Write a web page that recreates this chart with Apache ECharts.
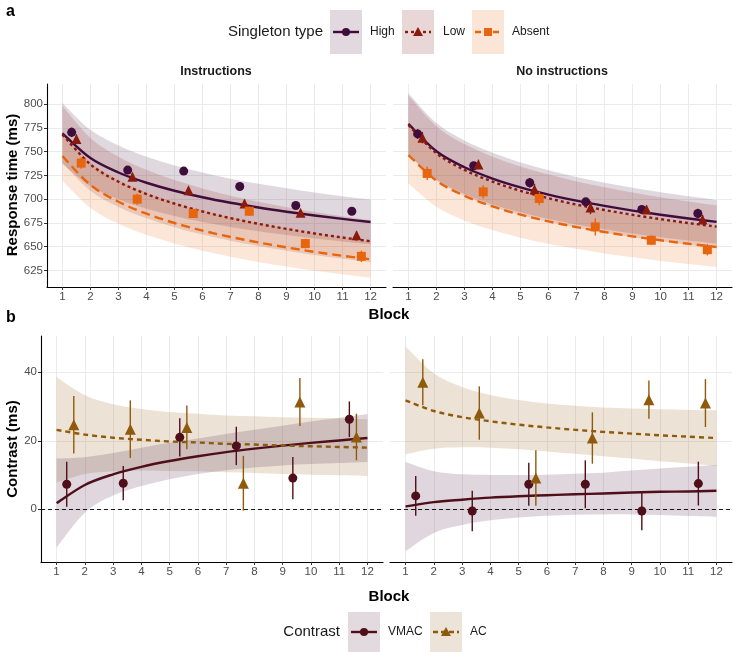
<!DOCTYPE html>
<html>
<head>
<meta charset="utf-8">
<script src="https://cdn.jsdelivr.net/npm/echarts@6/dist/echarts.min.js"></script>
<style>
  html, body { margin: 0; padding: 0; background: #fff; }
  #chart { width: 733px; height: 652px; }
</style>
</head>
<body>
<div id="chart"></div>
<script>
// blocks used for the fitted curves and for the observed means
var fitBlocks = [1, 2, 3, 4, 5, 6, 7, 8, 9, 10, 11, 12];
var meanBlocks = [1, 3, 5, 7, 9, 11];
var rtTicks = [625, 650, 675, 700, 725, 750, 775, 800];
var contrastTicks = [0, 20, 40];
var panelTitles = ['Instructions', 'No instructions'];

// ---- panel a, Instructions ----
var instHighMean = [770.4, 730.6, 729.6, 713.4, 693.3, 687.3];
var instHighErr = [5, 4, 4, 3, 4, 3];
var instLowMean = [763.4, 723.6, 709.5, 695.4, 685.6, 662.0];
var instLowErr = [5, 4, 3, 4, 3, 4];
var instAbsentMean = [738.0, 700.0, 684.9, 687.3, 653.2, 639.8];
var instAbsentErr = [6, 6, 4, 5, 5, 6];

var instHighFit = [769.4, 743.3, 728.1, 717.3, 708.9, 702.0, 696.2, 691.2, 686.8, 682.8, 679.2, 676.0];
var instHighUpr = [801.4, 773.0, 756.4, 744.6, 735.5, 728.0, 721.6, 716.2, 711.4, 707.0, 703.1, 699.6];
var instHighLwr = [737.4, 713.6, 699.8, 690.0, 682.3, 676.0, 670.8, 666.2, 662.2, 658.6, 655.3, 652.4];
var instLowFit = [768.0, 736.7, 718.3, 705.4, 695.3, 687.0, 680.0, 674.0, 668.7, 663.9, 659.6, 655.7];
var instLowUpr = [798.0, 764.5, 744.8, 730.9, 720.1, 711.3, 703.7, 697.3, 691.6, 686.5, 681.9, 677.7];
var instLowLwr = [738.0, 708.9, 691.8, 679.9, 670.5, 662.7, 656.3, 650.7, 645.8, 641.3, 637.3, 633.7];
var instAbsentFit = [745.4, 715.0, 697.3, 684.7, 674.9, 666.9, 660.2, 654.4, 649.2, 644.5, 640.4, 636.6];
var instAbsentUpr = [771.4, 739.2, 720.4, 707.0, 696.6, 688.1, 681.0, 674.9, 669.4, 664.4, 660.0, 656.0];
var instAbsentLwr = [719.4, 690.8, 674.2, 662.4, 653.2, 645.7, 639.4, 633.9, 629.0, 624.6, 620.8, 617.2];

// ---- panel a, No instructions ----
var noHighMean = [768.7, 735.2, 717.3, 697.2, 689.1, 684.9];
var noHighErr = [5, 4, 5, 4, 3, 5];
var noLowMean = [764.8, 736.6, 710.2, 691.2, 689.1, 678.5];
var noLowErr = [6, 5, 6, 7, 4, 5];
var noAbsentMean = [727.1, 707.7, 700.7, 670.8, 656.7, 646.8];
var noAbsentErr = [7, 7, 7, 9, 5, 6];

var noHighFit = [779.2, 750.4, 733.6, 721.7, 712.4, 704.8, 698.4, 692.9, 688.0, 683.6, 679.7, 676.1];
var noHighUpr = [811.6, 780.2, 761.8, 748.9, 738.7, 730.5, 723.4, 717.4, 712.1, 707.3, 703.0, 699.1];
var noHighLwr = [746.8, 720.6, 705.4, 694.5, 686.1, 679.1, 673.4, 668.4, 663.9, 659.9, 656.4, 653.1];
var noLowFit = [778.2, 748.3, 730.8, 718.5, 708.8, 701.0, 694.3, 688.6, 683.5, 679.0, 674.8, 671.1];
var noLowUpr = [809.2, 776.9, 758.0, 744.8, 734.3, 725.9, 718.6, 712.5, 707.0, 702.1, 697.6, 693.6];
var noLowLwr = [747.2, 719.7, 703.6, 692.2, 683.3, 676.1, 670.0, 664.7, 660.0, 655.9, 652.0, 648.6];
var noAbsentFit = [746.5, 719.5, 703.6, 692.4, 683.7, 676.6, 670.6, 665.4, 660.8, 656.7, 653.0, 649.6];
var noAbsentUpr = [776.5, 747.0, 729.6, 717.3, 707.9, 700.1, 693.5, 687.9, 682.8, 678.4, 674.3, 670.6];
var noAbsentLwr = [716.5, 692.0, 677.6, 667.5, 659.5, 653.1, 647.7, 642.9, 638.8, 635.0, 631.7, 628.6];

// ---- panel b, Instructions ----
var instVmacMean = [7.3, 7.6, 21.0, 18.5, 9.1, 26.3];
var instVmacErr = [6.6, 5.0, 5.6, 5.6, 6.2, 5.2];
var instAcMean = [24.7, 23.4, 23.9, 7.6, 31.3, 21.1];
var instAcErr = [8.4, 8.4, 6.4, 8.0, 7.0, 6.8];

var instVmacFit = [1.8, 7.1, 10.2, 12.4, 14.1, 15.5, 16.7, 17.7, 18.6, 19.4, 20.1, 20.8];
var instVmacUpr = [14.8, 15.2, 16.4, 18.0, 19.4, 20.7, 22.0, 23.2, 24.4, 25.6, 26.7, 27.8];
var instVmacLwr = [-11.2, -1.0, 4.0, 6.8, 8.8, 10.3, 11.4, 12.2, 12.8, 13.2, 13.5, 13.8];
var instAcFit = [23.2, 21.8, 20.9, 20.3, 19.8, 19.5, 19.1, 18.9, 18.6, 18.4, 18.2, 18.0];
var instAcUpr = [38.6, 33.3, 30.7, 29.3, 28.4, 27.9, 27.4, 27.2, 26.9, 26.7, 26.5, 26.3];
var instAcLwr = [7.8, 10.3, 11.1, 11.3, 11.2, 11.1, 10.8, 10.6, 10.3, 10.1, 9.9, 9.7];

// ---- panel b, No instructions ----
var noVmacMean = [3.9, -0.5, 7.3, 7.3, -0.5, 7.5];
var noVmacErr = [5.8, 5.9, 6.3, 7.0, 5.6, 6.4];
var noAcMean = [37.1, 28.1, 9.1, 20.8, 32.0, 31.0];
var noAcErr = [6.7, 7.8, 8.1, 7.5, 5.6, 7.0];

var noVmacFit = [0.8, 2.1, 2.8, 3.4, 3.8, 4.1, 4.4, 4.6, 4.9, 5.1, 5.2, 5.4];
var noVmacUpr = [13.8, 11.1, 10.2, 10.0, 10.0, 10.1, 10.4, 10.7, 11.3, 11.9, 12.4, 13.0];
var noVmacLwr = [-12.2, -6.9, -4.6, -3.2, -2.4, -1.9, -1.6, -1.5, -1.5, -1.7, -2.0, -2.2];
var noAcFit = [31.8, 28.7, 26.9, 25.7, 24.7, 23.9, 23.2, 22.6, 22.1, 21.6, 21.2, 20.8];
var noAcUpr = [47.5, 39.7, 35.7, 33.4, 31.9, 30.9, 30.2, 29.7, 29.4, 29.2, 29.0, 28.9];
var noAcLwr = [16.1, 17.7, 18.1, 18.0, 17.5, 16.9, 16.2, 15.5, 14.8, 14.0, 13.4, 12.7];

// colours
var HIGH = '#3f0d3b', LOW = '#8b1a0e', ABSENT = '#e8650f';
var VMAC = '#4f0f1a', AC = '#8f5a0b';
var HIGH_BAND = 'rgba(63,13,59,0.16)', LOW_BAND = 'rgba(139,26,14,0.16)', ABSENT_BAND = 'rgba(232,101,15,0.16)';
var VMAC_BAND = 'rgba(80,30,70,0.18)', AC_BAND = 'rgba(143,90,11,0.17)';

var TICK_FONT = '"Liberation Sans Narrow", "Liberation Sans", Arial, sans-serif';
var TITLE_FONT = '"Liberation Sans", Arial, sans-serif';

var chart = echarts.init(document.getElementById('chart'), null, { renderer: 'canvas' });

function pairs(xs, ys) {
    return xs.map(function (x, i) { return [x, ys[i]]; });
}

// smooth path through pixel points (Catmull-Rom as cubic Bezier)
function curveCmds(pts, start) {
    var d = (start ? 'M' : 'L') + pts[0][0] + ' ' + pts[0][1];
    for (var i = 0; i < pts.length - 1; i++) {
        var p0 = pts[i - 1] || pts[i], p1 = pts[i], p2 = pts[i + 1], p3 = pts[i + 2] || p2;
        var c1x = p1[0] + (p2[0] - p0[0]) / 6, c1y = p1[1] + (p2[1] - p0[1]) / 6;
        var c2x = p2[0] - (p3[0] - p1[0]) / 6, c2y = p2[1] - (p3[1] - p1[1]) / 6;
        d += ' C' + c1x + ' ' + c1y + ' ' + c2x + ' ' + c2y + ' ' + p2[0] + ' ' + p2[1];
    }
    return d;
}

function band(g, lwr, upr, fill) {
    return { type: 'custom', xAxisIndex: g, yAxisIndex: g, z: 1, silent: true,
        data: pairs(fitBlocks, lwr),
        renderItem: function (params, api) {
            if (params.dataIndex !== 0) return null;
            var up = fitBlocks.map(function (b, i) { return api.coord([b, upr[i]]); });
            var lo = fitBlocks.map(function (b, i) { return api.coord([b, lwr[i]]); }).reverse();
            var d = curveCmds(up, true) + ' ' + curveCmds(lo, false) + ' Z';
            return { type: 'path', shape: { pathData: d }, style: { fill: fill } };
        } };
}

function fitLine(g, fit, color, dash) {
    return { type: 'custom', xAxisIndex: g, yAxisIndex: g, z: 3, silent: true,
        data: pairs(fitBlocks, fit),
        renderItem: function (params, api) {
            if (params.dataIndex !== 0) return null;
            var pts = fitBlocks.map(function (b, i) { return api.coord([b, fit[i]]); });
            return { type: 'path', shape: { pathData: curveCmds(pts, true) },
                     style: { fill: null, stroke: color, lineWidth: 2.4, lineDash: dash } };
        } };
}

function points(g, mean, err, offset, color, symbol, size, markLine) {
    var xs = meanBlocks.map(function (b) { return b + offset; });
    var sc = { type: 'scatter', xAxisIndex: g, yAxisIndex: g, z: 5, silent: true,
          data: pairs(xs, mean), symbol: symbol, symbolSize: size,
          itemStyle: { color: color, opacity: 1 } };
    if (markLine) sc.markLine = markLine;
    return [
        { type: 'custom', xAxisIndex: g, yAxisIndex: g, z: 4, silent: true,
          data: xs.map(function (x, i) { return [x, mean[i] - err[i], mean[i] + err[i]]; }),
          encode: { x: 0, y: [1, 2] },
          renderItem: function (params, api) {
              var a = api.coord([api.value(0), api.value(1)]);
              var b = api.coord([api.value(0), api.value(2)]);
              return { type: 'line', shape: { x1: a[0], y1: a[1], x2: b[0], y2: b[1] },
                       style: { stroke: color, lineWidth: 1.4 } };
          } },
        sc
    ];
}

var zeroLine = { silent: true, symbol: 'none', label: { show: false }, z: 2,
    lineStyle: { color: '#000', type: [4, 3], width: 0.9 }, data: [{ yAxis: 0 }] };

var grids = [
    { left: 47, top: 84, width: 339, height: 203 },
    { left: 393, top: 84, width: 339, height: 203 },
    { left: 41, top: 336, width: 342, height: 226 },
    { left: 390, top: 336, width: 342, height: 226 }
];

function xAxisFor(g) {
    return { type: 'value', gridIndex: g, min: 0.45, max: 12.55,
        axisLine: { show: true, onZero: false, lineStyle: { color: '#000', width: 1.1 } },
        axisTick: { show: true, length: 3, customValues: fitBlocks, lineStyle: { color: '#333' } },
        axisLabel: { customValues: fitBlocks, color: '#4d4d4d', fontSize: 11.5, fontFamily: TICK_FONT, margin: 4 },
        splitLine: { show: true, lineStyle: { color: '#ebebeb', width: 1 } } };
}

function yAxisFor(g, min, max, ticks, showLeft) {
    return { type: 'value', gridIndex: g, min: min, max: max,
        axisLine: { show: showLeft, onZero: false, lineStyle: { color: '#000', width: 1.1 } },
        axisTick: { show: showLeft, length: 3, customValues: ticks, lineStyle: { color: '#333' } },
        axisLabel: { show: showLeft, customValues: ticks, color: '#4d4d4d', fontSize: 11.5, fontFamily: TICK_FONT, margin: 4 },
        splitLine: { show: true, lineStyle: { color: '#ebebeb', width: 1 } } };
}

var series = [].concat(
    [band(0, instHighLwr, instHighUpr, HIGH_BAND),
     band(0, instLowLwr, instLowUpr, LOW_BAND),
     band(0, instAbsentLwr, instAbsentUpr, ABSENT_BAND),
     fitLine(0, instHighFit, HIGH, null),
     fitLine(0, instLowFit, LOW, [3, 3]),
     fitLine(0, instAbsentFit, ABSENT, [9, 5])],
    points(0, instHighMean, instHighErr, 0.33, HIGH, 'circle', 9),
    points(0, instLowMean, instLowErr, 0.5, LOW, 'triangle', 10),
    points(0, instAbsentMean, instAbsentErr, 0.67, ABSENT, 'rect', 9),

    [band(1, noHighLwr, noHighUpr, HIGH_BAND),
     band(1, noLowLwr, noLowUpr, LOW_BAND),
     band(1, noAbsentLwr, noAbsentUpr, ABSENT_BAND),
     fitLine(1, noHighFit, HIGH, null),
     fitLine(1, noLowFit, LOW, [3, 3]),
     fitLine(1, noAbsentFit, ABSENT, [9, 5])],
    points(1, noHighMean, noHighErr, 0.33, HIGH, 'circle', 9),
    points(1, noLowMean, noLowErr, 0.5, LOW, 'triangle', 10),
    points(1, noAbsentMean, noAbsentErr, 0.67, ABSENT, 'rect', 9),

    [band(2, instAcLwr, instAcUpr, AC_BAND),
     band(2, instVmacLwr, instVmacUpr, VMAC_BAND),
     fitLine(2, instVmacFit, VMAC, null),
     fitLine(2, instAcFit, AC, [5, 4])],
    points(2, instVmacMean, instVmacErr, 0.36, VMAC, 'circle', 9, zeroLine),
    points(2, instAcMean, instAcErr, 0.61, AC, 'triangle', 11),

    [band(3, noAcLwr, noAcUpr, AC_BAND),
     band(3, noVmacLwr, noVmacUpr, VMAC_BAND),
     fitLine(3, noVmacFit, VMAC, null),
     fitLine(3, noAcFit, AC, [5, 4])],
    points(3, noVmacMean, noVmacErr, 0.36, VMAC, 'circle', 9, zeroLine),
    points(3, noAcMean, noAcErr, 0.61, AC, 'triangle', 11)
);

// legend keys drawn as ggplot-style boxes
function legendKey(x, yTop, h, bg, color, dash, shape) {
    var cy = yTop + h / 2, cx = x + 16;
    var mark;
    if (shape === 'circle') {
        mark = { type: 'circle', shape: { cx: cx, cy: cy, r: 4 }, style: { fill: color } };
    } else if (shape === 'triangle') {
        mark = { type: 'polygon', shape: { points: [[cx, cy - 5], [cx - 5, cy + 4], [cx + 5, cy + 4]] }, style: { fill: color } };
    } else {
        mark = { type: 'rect', shape: { x: cx - 4, y: cy - 4, width: 8, height: 8 }, style: { fill: color } };
    }
    return [
        { type: 'rect', shape: { x: x, y: yTop, width: 32, height: h }, style: { fill: bg } },
        { type: 'line', shape: { x1: x + 3, y1: cy, x2: x + 29, y2: cy }, style: { stroke: color, lineWidth: 2.4, lineDash: dash } },
        mark
    ];
}

function txt(x, y, text, size, opts) {
    var o = { type: 'text', x: x, y: y, style: { text: text, fontSize: size, fontFamily: TICK_FONT,
        fill: '#1a1a1a', textAlign: 'left', textVerticalAlign: 'middle' } };
    if (opts) { for (var k in opts) o.style[k] = opts[k]; }
    return o;
}

var graphics = [].concat(
    [txt(6, 12, 'a', 16, { fontWeight: 'bold', fontFamily: TITLE_FONT, fill: '#000' }),
     txt(6, 318, 'b', 16, { fontWeight: 'bold', fontFamily: TITLE_FONT, fill: '#000' }),
     txt(323, 32, 'Singleton type', 15, { textAlign: 'right' })],
    legendKey(330, 10, 44, '#e1d8e0', HIGH, null, 'circle'),
    [txt(370, 32, 'High', 12)],
    legendKey(402, 10, 44, '#e9d6d6', LOW, [3, 3], 'triangle'),
    [txt(443, 32, 'Low', 12)],
    legendKey(472, 10, 44, '#fbe5d7', ABSENT, [6, 3], 'rect'),
    [txt(512, 32, 'Absent', 12)],
    [txt(216, 72, panelTitles[0], 12.5, { textAlign: 'center', fontWeight: 'bold' }),
     txt(562, 72, panelTitles[1], 12.5, { textAlign: 'center', fontWeight: 'bold' }),
     txt(389, 315, 'Block', 15, { textAlign: 'center', fontWeight: 'bold', fontFamily: TITLE_FONT, fill: '#000' }),
     txt(389, 597, 'Block', 15, { textAlign: 'center', fontWeight: 'bold', fontFamily: TITLE_FONT, fill: '#000' }),
     { type: 'text', x: 13, y: 185, rotation: Math.PI / 2,
       style: { text: 'Response time (ms)', fontSize: 15, fontWeight: 'bold', fontFamily: TITLE_FONT,
                fill: '#000', textAlign: 'center', textVerticalAlign: 'middle' } },
     { type: 'text', x: 13, y: 449, rotation: Math.PI / 2,
       style: { text: 'Contrast (ms)', fontSize: 15, fontWeight: 'bold', fontFamily: TITLE_FONT,
                fill: '#000', textAlign: 'center', textVerticalAlign: 'middle' } },
     txt(340, 632, 'Contrast', 15, { textAlign: 'right' })],
    legendKey(348, 612, 40, '#e3dadf', VMAC, null, 'circle'),
    [txt(388, 632, 'VMAC', 12)],
    legendKey(430, 612, 40, '#ece4d8', AC, [5, 3], 'triangle'),
    [txt(470, 632, 'AC', 12)]
);

var option = {
    animation: false,
    backgroundColor: '#fff',
    grid: grids,
    xAxis: [xAxisFor(0), xAxisFor(1), xAxisFor(2), xAxisFor(3)],
    yAxis: [
        yAxisFor(0, 607.5, 821.3, rtTicks, true),
        yAxisFor(1, 607.5, 821.3, rtTicks, false),
        yAxisFor(2, -15.4, 50.6, contrastTicks, true),
        yAxisFor(3, -15.4, 50.6, contrastTicks, false)
    ],
    series: series,
    graphic: graphics
};

chart.setOption(option);
</script>
</body>
</html>
